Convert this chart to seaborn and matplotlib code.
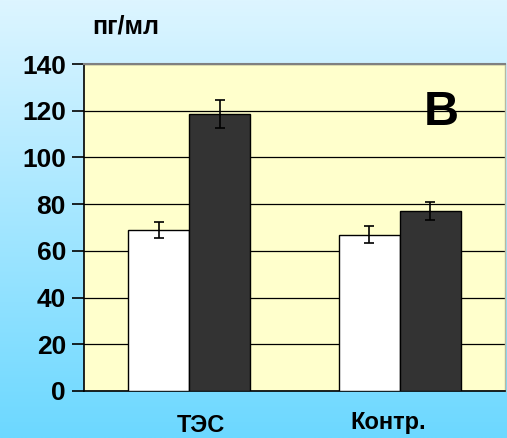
import numpy as np
import pandas as pd
import seaborn as sns
import matplotlib
matplotlib.use("Agg")
import matplotlib.pyplot as plt
from matplotlib.colors import LinearSegmentedColormap
from matplotlib.transforms import ScaledTranslation

# Data
categories = ["ТЭС", "Контр."]
series = ["до", "после"]
values_before = [69, 67]
values_after = [118.5, 77]
err_before = [3.5, 3.5]
err_after = [6, 4]
y_ticks = [0, 20, 40, 60, 80, 100, 120, 140]

df = pd.DataFrame({
    "group": categories * 2,
    "series": [series[0]] * 2 + [series[1]] * 2,
    "value": values_before + values_after,
    "err": err_before + err_after,
})

sns.set_theme(style="white")
plt.rcParams["font.family"] = ["Liberation Sans", "DejaVu Sans"]
plt.rcParams["font.weight"] = "bold"

fig = plt.figure(figsize=(5.07, 4.38), dpi=100)

# vertical gradient behind everything
bg = fig.add_axes([0, 0, 1, 1], zorder=-10)
grad = np.linspace(0, 1, 256).reshape(-1, 1)
cmap = LinearSegmentedColormap.from_list("sky", ["#DDF5FF", "#6CD8FF"])
bg.imshow(grad, aspect="auto", cmap=cmap, extent=[0, 1, 0, 1], origin="upper")
bg.set_axis_off()

ax = fig.add_axes([84 / 507, 47 / 438, 421 / 507, 327 / 438])
ax.set_facecolor("#FFFFCC")

sns.barplot(data=df, x="group", y="value", hue="series", order=categories,
            hue_order=series, palette=["#FFFFFF", "#333333"], edgecolor="black",
            linewidth=1.0, width=0.58, errorbar=None, legend=False, ax=ax, zorder=3)

# error bars from the same values
for patch_container, errs in zip(ax.containers, [err_before, err_after]):
    for patch, e in zip(patch_container.patches, errs):
        xc = patch.get_x() + patch.get_width() / 2
        ax.errorbar(xc, patch.get_height(), yerr=e, fmt="none", ecolor="black",
                    elinewidth=1.2, capsize=3.6, capthick=1.2, zorder=4)

ax.set_ylim(0, 140)
ax.set_xlim(-0.5, 1.5)
ax.set_yticks(y_ticks)
ax.yaxis.grid(True, color="black", linewidth=0.9, zorder=0)
ax.set_axisbelow(True)
ax.tick_params(axis="y", which="both", left=True, length=9, width=1.2,
               color="black", labelsize=19, pad=4)
ax.tick_params(axis="x", bottom=False, labelsize=17, pad=12)
for lab in ax.get_yticklabels():
    lab.set_fontweight("bold")
    lab.set_color("black")

# category labels, nudged sideways
offsets = [12 / 100, -12 / 100]
vshift = [2 / 100, 5 / 100]
for lab, dx, dy in zip(ax.get_xticklabels(), offsets, vshift):
    lab.set_fontweight("bold")
    lab.set_color("black")
    lab.set_transform(lab.get_transform() + ScaledTranslation(dx, dy, fig.dpi_scale_trans))

ax.set_xlabel("")
ax.set_ylabel("")

for side in ["left", "bottom"]:
    ax.spines[side].set_color("black")
    ax.spines[side].set_linewidth(1.2)
ax.spines["top"].set_color("#808080")
ax.spines["top"].set_linewidth(1.5)
ax.spines["right"].set_color("#B8B8A0")
ax.spines["right"].set_linewidth(1.0)

ax.text(1.196, 119.2, "В", fontsize=35, fontweight="bold", ha="center", va="center",
        color="black", zorder=5)
fig.text(126 / 507, 1 - 27 / 438, "пг/мл", fontsize=18, fontweight="bold",
         ha="center", va="center", color="black")

fig.savefig("out.png", dpi=100)
